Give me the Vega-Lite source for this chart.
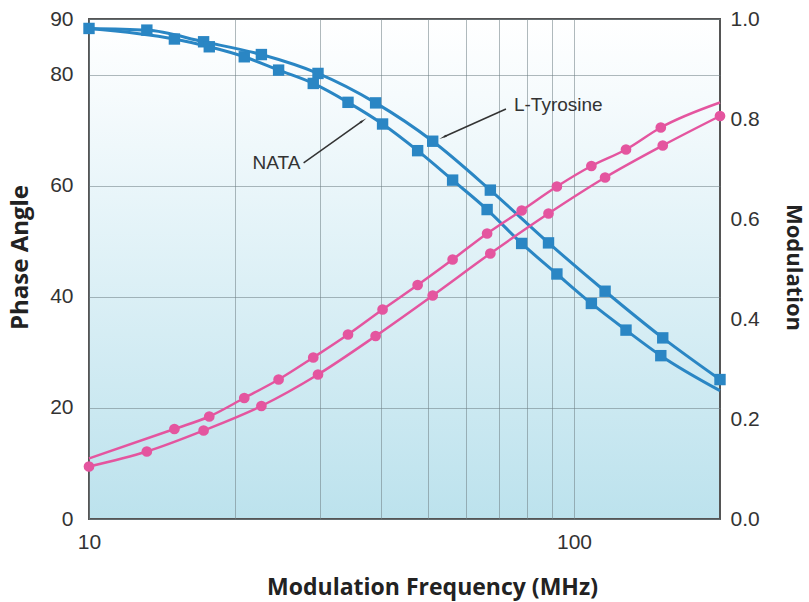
{
  "$schema": "https://vega.github.io/schema/vega-lite/v6.json",
  "width": 631,
  "height": 500,
  "autosize": {"type": "none"},
  "padding": {"left": 89, "top": 19, "right": 89, "bottom": 83},
  "background": "white",
  "config": {
    "view": {
      "fill": {"gradient": "linear", "x1": 0, "y1": 0, "x2": 0, "y2": 1,
        "stops": [{"offset": 0, "color": "#ffffff"}, {"offset": 0.15, "color": "#f6fbfd"}, {"offset": 1, "color": "#bce2ed"}]},
      "stroke": "#555555",
      "strokeWidth": 2
    },
    "font": "Liberation Sans"
  },
  "datasets": {
    "phaseFit": [
      {"compound": "L-Tyrosine", "f": 10, "phase": 88.3},
      {"compound": "L-Tyrosine", "f": 13.16, "phase": 88.0},
      {"compound": "L-Tyrosine", "f": 17.23, "phase": 85.9},
      {"compound": "L-Tyrosine", "f": 22.67, "phase": 83.6},
      {"compound": "L-Tyrosine", "f": 29.66, "phase": 80.2},
      {"compound": "L-Tyrosine", "f": 38.99, "phase": 74.9},
      {"compound": "L-Tyrosine", "f": 51.13, "phase": 68.0},
      {"compound": "L-Tyrosine", "f": 67.22, "phase": 59.2},
      {"compound": "L-Tyrosine", "f": 88.6, "phase": 49.7},
      {"compound": "L-Tyrosine", "f": 115.9, "phase": 41.0},
      {"compound": "L-Tyrosine", "f": 152.4, "phase": 32.6},
      {"compound": "L-Tyrosine", "f": 200, "phase": 25.1},
      {"compound": "NATA", "f": 10, "phase": 88.3},
      {"compound": "NATA", "f": 15.0, "phase": 86.4},
      {"compound": "NATA", "f": 17.7, "phase": 85.0},
      {"compound": "NATA", "f": 20.9, "phase": 83.2},
      {"compound": "NATA", "f": 24.6, "phase": 80.8},
      {"compound": "NATA", "f": 29.0, "phase": 78.4},
      {"compound": "NATA", "f": 34.2, "phase": 75.0},
      {"compound": "NATA", "f": 40.3, "phase": 71.1},
      {"compound": "NATA", "f": 47.6, "phase": 66.3},
      {"compound": "NATA", "f": 56.2, "phase": 61.0},
      {"compound": "NATA", "f": 66.2, "phase": 55.7},
      {"compound": "NATA", "f": 78.0, "phase": 49.6},
      {"compound": "NATA", "f": 92.2, "phase": 44.1},
      {"compound": "NATA", "f": 108.6, "phase": 38.8},
      {"compound": "NATA", "f": 128, "phase": 34.0},
      {"compound": "NATA", "f": 151, "phase": 29.4},
      {"compound": "NATA", "f": 200, "phase": 23.1}
    ],
    "phaseObs": [
      {"compound": "L-Tyrosine", "f": 10, "phase": 88.3},
      {"compound": "L-Tyrosine", "f": 13.16, "phase": 88.0},
      {"compound": "L-Tyrosine", "f": 17.23, "phase": 85.9},
      {"compound": "L-Tyrosine", "f": 22.67, "phase": 83.6},
      {"compound": "L-Tyrosine", "f": 29.66, "phase": 80.2},
      {"compound": "L-Tyrosine", "f": 38.99, "phase": 74.9},
      {"compound": "L-Tyrosine", "f": 51.13, "phase": 68.0},
      {"compound": "L-Tyrosine", "f": 67.22, "phase": 59.2},
      {"compound": "L-Tyrosine", "f": 88.6, "phase": 49.7},
      {"compound": "L-Tyrosine", "f": 115.9, "phase": 41.0},
      {"compound": "L-Tyrosine", "f": 152.4, "phase": 32.6},
      {"compound": "L-Tyrosine", "f": 200, "phase": 25.1},
      {"compound": "NATA", "f": 15.0, "phase": 86.4},
      {"compound": "NATA", "f": 17.7, "phase": 85.0},
      {"compound": "NATA", "f": 20.9, "phase": 83.2},
      {"compound": "NATA", "f": 24.6, "phase": 80.8},
      {"compound": "NATA", "f": 29.0, "phase": 78.4},
      {"compound": "NATA", "f": 34.2, "phase": 75.0},
      {"compound": "NATA", "f": 40.3, "phase": 71.1},
      {"compound": "NATA", "f": 47.6, "phase": 66.3},
      {"compound": "NATA", "f": 56.2, "phase": 61.0},
      {"compound": "NATA", "f": 66.2, "phase": 55.7},
      {"compound": "NATA", "f": 78.0, "phase": 49.6},
      {"compound": "NATA", "f": 92.2, "phase": 44.1},
      {"compound": "NATA", "f": 108.6, "phase": 38.8},
      {"compound": "NATA", "f": 128, "phase": 34.0},
      {"compound": "NATA", "f": 151, "phase": 29.4}
    ],
    "modFit": [
      {"compound": "L-Tyrosine", "f": 10, "mod": 0.105},
      {"compound": "L-Tyrosine", "f": 13.16, "mod": 0.135},
      {"compound": "L-Tyrosine", "f": 17.23, "mod": 0.177},
      {"compound": "L-Tyrosine", "f": 22.67, "mod": 0.226},
      {"compound": "L-Tyrosine", "f": 29.66, "mod": 0.289},
      {"compound": "L-Tyrosine", "f": 38.99, "mod": 0.366},
      {"compound": "L-Tyrosine", "f": 51.13, "mod": 0.447},
      {"compound": "L-Tyrosine", "f": 67.22, "mod": 0.531},
      {"compound": "L-Tyrosine", "f": 88.6, "mod": 0.611},
      {"compound": "L-Tyrosine", "f": 115.9, "mod": 0.683},
      {"compound": "L-Tyrosine", "f": 152.4, "mod": 0.747},
      {"compound": "L-Tyrosine", "f": 200, "mod": 0.806},
      {"compound": "NATA", "f": 10, "mod": 0.121},
      {"compound": "NATA", "f": 15.0, "mod": 0.180},
      {"compound": "NATA", "f": 17.7, "mod": 0.205},
      {"compound": "NATA", "f": 20.9, "mod": 0.242},
      {"compound": "NATA", "f": 24.6, "mod": 0.279},
      {"compound": "NATA", "f": 29.0, "mod": 0.323},
      {"compound": "NATA", "f": 34.2, "mod": 0.369},
      {"compound": "NATA", "f": 40.3, "mod": 0.419},
      {"compound": "NATA", "f": 47.6, "mod": 0.468},
      {"compound": "NATA", "f": 56.2, "mod": 0.519},
      {"compound": "NATA", "f": 66.2, "mod": 0.571},
      {"compound": "NATA", "f": 78.0, "mod": 0.617},
      {"compound": "NATA", "f": 92.2, "mod": 0.665},
      {"compound": "NATA", "f": 108.6, "mod": 0.706},
      {"compound": "NATA", "f": 128, "mod": 0.739},
      {"compound": "NATA", "f": 151, "mod": 0.783},
      {"compound": "NATA", "f": 200, "mod": 0.833}
    ],
    "modObs": [
      {"compound": "L-Tyrosine", "f": 10, "mod": 0.105},
      {"compound": "L-Tyrosine", "f": 13.16, "mod": 0.135},
      {"compound": "L-Tyrosine", "f": 17.23, "mod": 0.177},
      {"compound": "L-Tyrosine", "f": 22.67, "mod": 0.226},
      {"compound": "L-Tyrosine", "f": 29.66, "mod": 0.289},
      {"compound": "L-Tyrosine", "f": 38.99, "mod": 0.366},
      {"compound": "L-Tyrosine", "f": 51.13, "mod": 0.447},
      {"compound": "L-Tyrosine", "f": 67.22, "mod": 0.531},
      {"compound": "L-Tyrosine", "f": 88.6, "mod": 0.611},
      {"compound": "L-Tyrosine", "f": 115.9, "mod": 0.683},
      {"compound": "L-Tyrosine", "f": 152.4, "mod": 0.747},
      {"compound": "L-Tyrosine", "f": 200, "mod": 0.806},
      {"compound": "NATA", "f": 15.0, "mod": 0.180},
      {"compound": "NATA", "f": 17.7, "mod": 0.205},
      {"compound": "NATA", "f": 20.9, "mod": 0.242},
      {"compound": "NATA", "f": 24.6, "mod": 0.279},
      {"compound": "NATA", "f": 29.0, "mod": 0.323},
      {"compound": "NATA", "f": 34.2, "mod": 0.369},
      {"compound": "NATA", "f": 40.3, "mod": 0.419},
      {"compound": "NATA", "f": 47.6, "mod": 0.468},
      {"compound": "NATA", "f": 56.2, "mod": 0.519},
      {"compound": "NATA", "f": 66.2, "mod": 0.571},
      {"compound": "NATA", "f": 78.0, "mod": 0.617},
      {"compound": "NATA", "f": 92.2, "mod": 0.665},
      {"compound": "NATA", "f": 108.6, "mod": 0.706},
      {"compound": "NATA", "f": 128, "mod": 0.739},
      {"compound": "NATA", "f": 151, "mod": 0.783}
    ],
    "arrows": [
      {"name": "NATA", "f": 27.7, "phase": 64.1, "f2": 36.6, "phase2": 71.6},
      {"name": "L-Tyrosine", "f": 72.4, "phase": 73.8, "f2": 53.95, "phase2": 68.8}
    ],
    "labels": [
      {"name": "NATA", "f": 24.35, "phase": 64.1},
      {"name": "L-Tyrosine", "f": 75.2, "phase": 74.5}
    ]
  },
  "encoding": {
    "x": {
      "field": "f", "type": "quantitative",
      "scale": {"type": "log", "domain": [10, 200], "nice": false},
      "axis": {
        "title": "Modulation Frequency (MHz)",
        "values": [10, 20, 30, 40, 50, 60, 70, 80, 90, 100],
        "labelExpr": "datum.value == 10 || datum.value == 100 ? datum.value : ''",
        "grid": true, "gridColor": "#6f7f85", "gridOpacity": 0.55, "gridWidth": 1,
        "ticks": false, "tickSize": 0, "domain": false,
        "labelFont": "Liberation Sans", "labelFontSize": 21, "labelColor": "#333333", "labelPadding": 12,
        "labelBaseline": "top", "labelFlush": false,
        "titleFont": "Open Sans", "titleFontSize": 23, "titleFontWeight": "bold", "titleColor": "#222222",
        "titleBaseline": "alphabetic", "titleY": 75, "titleX": 343, "titleAlign": "center", "titleAnchor": "start"
      }
    }
  },
  "layer": [
    {
      "encoding": {
        "y": {
          "field": "phase", "type": "quantitative",
          "scale": {"domain": [0, 90], "nice": false, "zero": true},
          "axis": {
            "orient": "left", "title": "Phase Angle",
            "values": [0, 20, 40, 60, 80, 90],
            "grid": true, "gridColor": "#6f7f85", "gridOpacity": 0.55, "gridWidth": 1,
            "ticks": false, "tickSize": 0, "domain": false,
            "labelFont": "Liberation Sans", "labelFontSize": 21, "labelColor": "#333333", "labelPadding": 16,
            "titleFont": "Open Sans", "titleFontSize": 24, "titleFontWeight": "bold", "titleColor": "#222222",
            "titleBaseline": "alphabetic", "titleX": -62, "titleY": 238, "titleAlign": "center"
          }
        }
      },
      "layer": [
        {
          "data": {"name": "phaseFit"},
          "mark": {"type": "line", "interpolate": "monotone", "color": "#2a86c4", "strokeWidth": 3},
          "encoding": {"detail": {"field": "compound"}}
        },
        {
          "data": {"name": "phaseObs"},
          "mark": {"type": "point", "shape": "square", "filled": true, "opacity": 1, "size": 130, "color": "#2a86c4"},
          "encoding": {"detail": {"field": "compound"}}
        },
        {
          "data": {"name": "arrows"},
          "mark": {"type": "rule", "color": "#333333", "strokeWidth": 1.5},
          "encoding": {"x2": {"field": "f2"}, "y2": {"field": "phase2"}}
        },
        {
          "data": {"name": "arrows"},
          "transform": [{"filter": "datum.name == 'NATA'"}],
          "mark": {"type": "point", "shape": "wedge", "filled": true, "opacity": 1, "size": 80, "angle": 55, "color": "#333333"},
          "encoding": {"x": {"field": "f2", "type": "quantitative"}, "y": {"field": "phase2", "type": "quantitative"}}
        },
        {
          "data": {"name": "arrows"},
          "transform": [{"filter": "datum.name == 'L-Tyrosine'"}],
          "mark": {"type": "point", "shape": "wedge", "filled": true, "opacity": 1, "size": 80, "angle": 246, "color": "#333333"},
          "encoding": {"x": {"field": "f2", "type": "quantitative"}, "y": {"field": "phase2", "type": "quantitative"}}
        },
        {
          "data": {"name": "labels"},
          "transform": [{"filter": "datum.name == 'NATA'"}],
          "mark": {"type": "text", "font": "Liberation Sans", "fontSize": 19, "color": "#333333", "align": "center", "baseline": "middle"},
          "encoding": {"text": {"field": "name"}}
        },
        {
          "data": {"name": "labels"},
          "transform": [{"filter": "datum.name == 'L-Tyrosine'"}],
          "mark": {"type": "text", "font": "Liberation Sans", "fontSize": 19, "color": "#333333", "align": "left", "baseline": "middle"},
          "encoding": {"text": {"field": "name"}}
        }
      ]
    },
    {
      "encoding": {
        "y": {
          "field": "mod", "type": "quantitative",
          "scale": {"domain": [0, 1], "nice": false},
          "axis": {
            "orient": "right", "title": "Modulation",
            "values": [0, 0.2, 0.4, 0.6, 0.8, 1.0], "format": ".1f",
            "grid": false, "ticks": false, "tickSize": 0, "domain": false,
            "labelFont": "Liberation Sans", "labelFontSize": 21, "labelColor": "#333333", "labelPadding": 10,
            "titleFont": "Open Sans", "titleFontSize": 22, "titleFontWeight": "bold", "titleColor": "#222222",
            "titleAngle": 90, "titleBaseline": "alphabetic", "titleX": 66, "titleY": 248, "titleAlign": "center"
          }
        }
      },
      "layer": [
        {
          "data": {"name": "modFit"},
          "mark": {"type": "line", "interpolate": "monotone", "color": "#e4559f", "strokeWidth": 2.5},
          "encoding": {"detail": {"field": "compound"}}
        },
        {
          "data": {"name": "modObs"},
          "mark": {"type": "point", "shape": "circle", "filled": true, "opacity": 1, "size": 115, "color": "#e4559f"},
          "encoding": {"detail": {"field": "compound"}}
        }
      ]
    }
  ],
  "resolve": {"scale": {"y": "independent"}}
}
